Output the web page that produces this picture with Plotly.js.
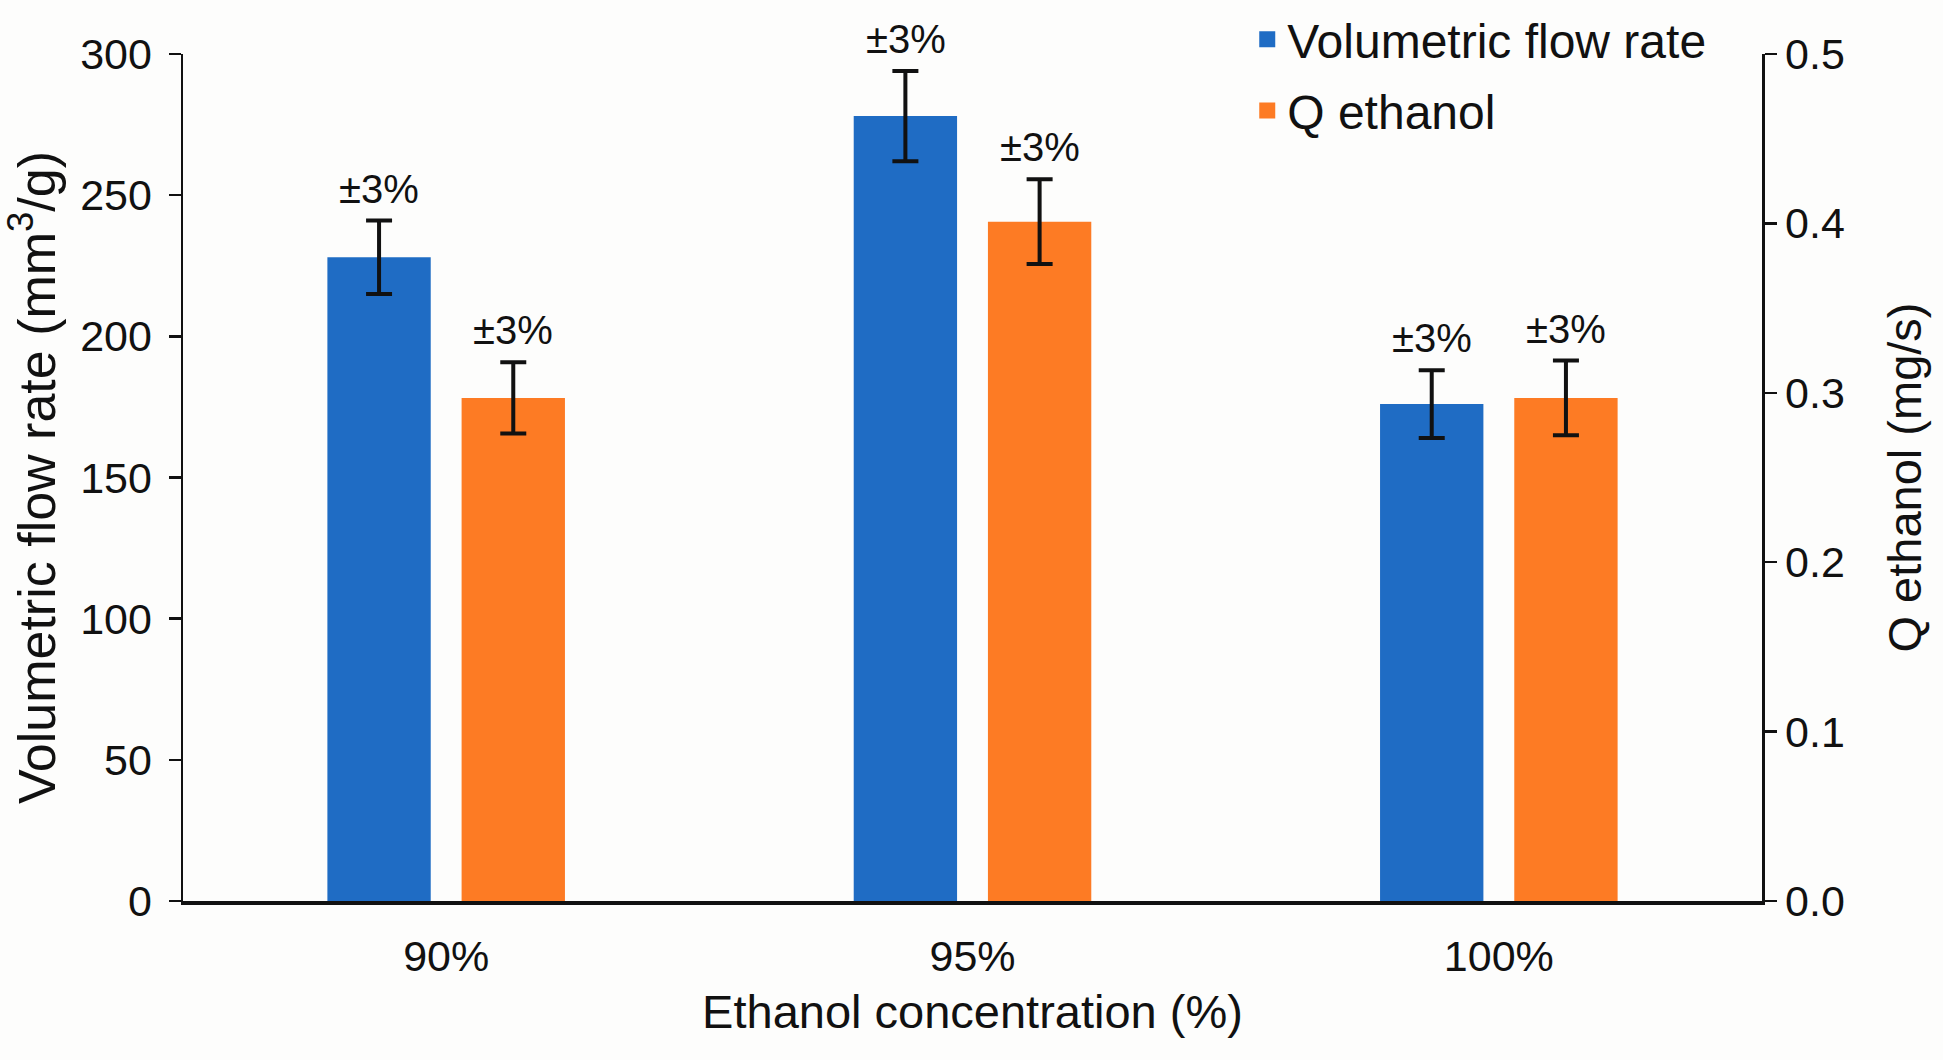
<!DOCTYPE html>
<html>
<head>
<meta charset="utf-8">
<script src="https://cdn.plot.ly/plotly-3.0.1.min.js"></script>
<style>
  html, body { margin: 0; padding: 0; background: #fdfdfc; }
  #chart { width: 1943px; height: 1060px; }
</style>
</head>
<body>
<div id="chart"></div>
<script>
// values
const concentrations = ['90%', '95%', '100%'];
const flowRate = [228, 278, 176];          // mm3/g, left axis
const flowRateErr = [13, 16, 12];
const qEthanol = [0.297, 0.401, 0.297];    // mg/s, right axis
const qEthanolErr = [0.021, 0.025, 0.022];
const errLabel = '±3%';

const c = {
  blue: '#1f6cc4',
  orange: '#fd7b24',
  ink: '#111111',
  bg: '#fdfdfc',
  font: 'Arial, "Liberation Sans", Helvetica, sans-serif'
};

const errStyle = { type: 'data', visible: true, color: c.ink, thickness: 4, width: 13 };

const traces = [
  {
    type: 'bar', name: 'Volumetric flow rate',
    x: concentrations, y: flowRate,
    error_y: Object.assign({ array: flowRateErr }, errStyle),
    marker: { color: c.blue },
    offsetgroup: 'vfr', yaxis: 'y', showlegend: false
  },
  {
    type: 'bar', name: 'Q ethanol',
    x: concentrations, y: qEthanol,
    error_y: Object.assign({ array: qEthanolErr }, errStyle),
    marker: { color: c.orange },
    offsetgroup: 'q', yaxis: 'y2', showlegend: false
  }
];

// legend-only entries: bar legend swatches are too small next to the big text
function legendKey(name, color, group) {
  return {
    type: 'scatter', mode: 'markers', name: name,
    x: [null], y: [null], legendgroup: group,
    marker: { symbol: 'square', size: 27, color: color },
    hoverinfo: 'skip'
  };
}
traces.push(legendKey('Volumetric flow rate', c.blue, 'a'));
traces.push(legendKey('Q ethanol', c.orange, 'b'));

// "±3%" tags sitting above each error bar
function errTags(vals, errs, yref, shift) {
  return vals.map((v, i) => ({
    x: concentrations[i], y: v + errs[i], xref: 'x', yref: yref,
    xshift: shift, yshift: 8, yanchor: 'bottom',
    text: errLabel, showarrow: false,
    font: { family: c.font, size: 40, color: c.ink }
  }));
}

const tickFont = { family: c.font, size: 43, color: c.ink };

const layout = {
  paper_bgcolor: c.bg,
  plot_bgcolor: c.bg,
  font: { family: c.font, color: c.ink },
  margin: { l: 183, r: 181, t: 54, b: 159, autoexpand: false },
  barmode: 'group',
  bargap: 0.49,
  bargroupgap: 0.23,
  showlegend: true,
  legend: {
    x: 0.674, y: 1.062, xanchor: 'left', yanchor: 'top',
    font: { family: c.font, size: 48, color: c.ink },
    bgcolor: 'rgba(0,0,0,0)', itemwidth: 30,
    traceorder: 'grouped', tracegroupgap: 6
  },
  xaxis: {
    type: 'category',
    showline: true, linecolor: c.ink, linewidth: 4,
    ticks: '', tickfont: tickFont, ticklabelstandoff: 14,
    title: { text: 'Ethanol concentration (%)', font: { family: c.font, size: 47, color: c.ink }, standoff: 18 },
    showgrid: false, zeroline: false
  },
  yaxis: {
    range: [0, 300], dtick: 50,
    showline: true, linecolor: c.ink, linewidth: 2.5,
    ticks: 'outside', ticklen: 12, tickwidth: 2.5, tickcolor: c.ink,
    tickfont: tickFont, ticklabelstandoff: 8,
    title: { text: 'Volumetric flow rate (mm<sup>3</sup>/g)', font: { family: c.font, size: 52, color: c.ink }, standoff: 8 },
    showgrid: false, zeroline: false
  },
  yaxis2: {
    overlaying: 'y', side: 'right',
    range: [0, 0.5], dtick: 0.1, tickformat: '.1f',
    showline: true, linecolor: c.ink, linewidth: 2.5,
    ticks: 'outside', ticklen: 12, tickwidth: 2.5, tickcolor: c.ink,
    tickfont: tickFont,
    title: { text: 'Q ethanol (mg/s)', font: { family: c.font, size: 47, color: c.ink }, standoff: 44 },
    showgrid: false, zeroline: false
  },
  annotations: errTags(flowRate, flowRateErr, 'y', -67)
    .concat(errTags(qEthanol, qEthanolErr, 'y2', 67))
};

Plotly.newPlot('chart', traces, layout, { displayModeBar: false, staticPlot: true });
</script>
</body>
</html>
